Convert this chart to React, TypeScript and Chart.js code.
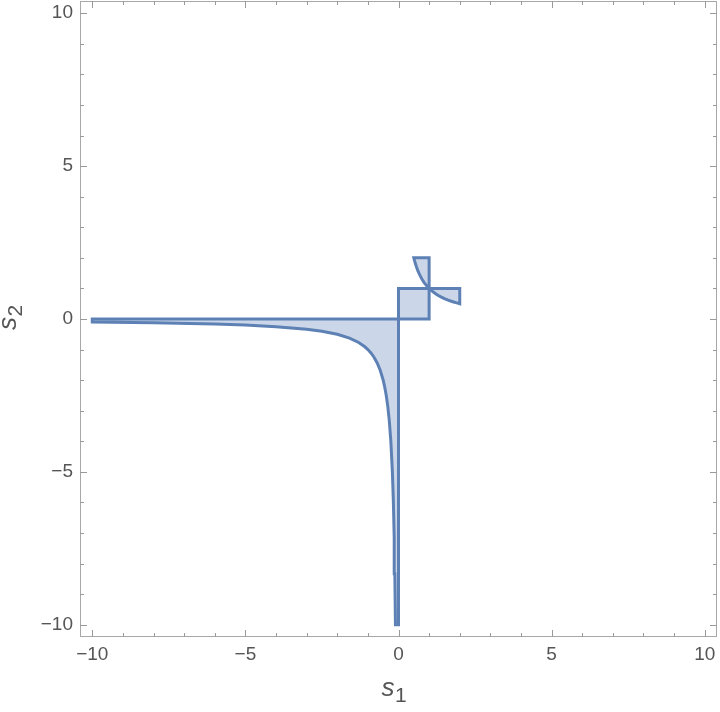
import React, { useEffect, useRef } from 'react';
import { Chart, registerables } from 'chart.js';

Chart.register(...registerables);

// Hyperbola boundary in the third quadrant
const curveS1 = [-10, -8, -6, -5, -4, -3, -2.5, -2, -1.6, -1.3, -1.1, -1, -0.9, -0.8, -0.7, -0.6, -0.5, -0.45, -0.4, -0.35, -0.3, -0.25, -0.2, -0.17, -0.14, -0.12, -0.1];
const curveS2 = [-0.1, -0.125, -0.167, -0.2, -0.25, -0.333, -0.4, -0.5, -0.625, -0.769, -0.909, -1, -1.111, -1.25, -1.429, -1.667, -2, -2.222, -2.5, -2.857, -3.333, -4, -5, -5.882, -7.143, -8.333, -10];

// Corners of the third-quadrant region (before the curve)
const quadCornerS1 = [-10, 0, 0];
const quadCornerS2 = [0, 0, -10];

// Unit square
const squareS1 = [0, 1, 1, 0, 0];
const squareS2 = [0, 0, 1, 1, 0];

// Upper petal: from (1,1) along curve to (0.5,2), then (1,2), back to (1,1)
const topPetalS1 = [1, 0.909, 0.833, 0.769, 0.714, 0.667, 0.625, 0.588, 0.556, 0.526, 0.5, 1, 1];
const topPetalS2 = [1, 1.1, 1.2, 1.3, 1.4, 1.5, 1.6, 1.7, 1.8, 1.9, 2, 2, 1];

// Right petal: from (1,1) along curve to (2,0.5), then (2,1), back to (1,1)
const rightPetalS1 = [1, 1.1, 1.2, 1.3, 1.4, 1.5, 1.6, 1.7, 1.8, 1.9, 2, 2, 1];
const rightPetalS2 = [1, 0.909, 0.833, 0.769, 0.714, 0.667, 0.625, 0.588, 0.556, 0.526, 0.5, 1, 1];

const majorTicks = [-10, -5, 0, 5, 10];
const minorTicks = [-9, -8, -7, -6, -4, -3, -2, -1, 1, 2, 3, 4, 6, 7, 8, 9];
const axisMin = -10.4;
const axisMax = 10.4;

const lineColor = '#5e81b5';
const fillColor = 'rgb(203, 215, 232)';
const frameColor = '#a8a8a8';
const textColor = '#555555';

function zipPts(xs: number[], ys: number[]) {
  return xs.map((x, i) => ({ x, y: ys[i] }));
}

function quadrantPoints() {
  const pts = zipPts(quadCornerS1, quadCornerS2);
  const curve = zipPts(curveS1, curveS2).reverse();
  return [...pts, ...curve, { x: quadCornerS1[0], y: quadCornerS2[0] }];
}

function fmt(v: number | string) {
  const n = Number(v);
  return n < 0 ? '\u2212' + Math.abs(n) : String(n);
}

const framePlugin = {
  id: 'frameTicks',
  beforeDatasetsDraw(chart: any) {
    const { ctx, chartArea, scales } = chart;
    const { left, right, top, bottom } = chartArea;
    const x = scales.x;
    const y = scales.y;
    ctx.save();
    ctx.strokeStyle = frameColor;
    ctx.lineWidth = 1;
    ctx.strokeRect(left + 0.5, top + 0.5, right - left - 1, bottom - top - 1);
    ctx.strokeStyle = '#9a9a9a';
    const drawTicks = (vals: number[], len: number) => {
      ctx.beginPath();
      for (const v of vals) {
        const px = Math.round(x.getPixelForValue(v)) + 0.5;
        ctx.moveTo(px, bottom);
        ctx.lineTo(px, bottom - len);
        ctx.moveTo(px, top);
        ctx.lineTo(px, top + len);
        const py = Math.round(y.getPixelForValue(v)) + 0.5;
        ctx.moveTo(left, py);
        ctx.lineTo(left + len, py);
        ctx.moveTo(right, py);
        ctx.lineTo(right - len, py);
      }
      ctx.stroke();
    };
    drawTicks(majorTicks, 7);
    drawTicks(minorTicks, 4);
    ctx.restore();
  },
  afterDraw(chart: any) {
    const { ctx, chartArea } = chart;
    const cx = (chartArea.left + chartArea.right) / 2;
    const cy = (chartArea.top + chartArea.bottom) / 2;
    ctx.save();
    ctx.fillStyle = textColor;
    ctx.textBaseline = 'alphabetic';
    ctx.textAlign = 'left';
    // x title: s with subscript 1
    ctx.font = 'italic 26px "Liberation Sans"';
    const sw = ctx.measureText('s').width;
    const xs = cx - 17;
    ctx.fillText('s', xs, 696);
    ctx.font = '21px "Liberation Sans"';
    ctx.fillText('1', xs + sw + 0.5, 702);
    // y title: rotated s with subscript 2
    ctx.translate(16, cy + 11);
    ctx.rotate(-Math.PI / 2);
    ctx.font = 'italic 26px "Liberation Sans"';
    const sw2 = ctx.measureText('s').width;
    ctx.fillText('s', 0, 0);
    ctx.font = '21px "Liberation Sans"';
    ctx.fillText('2', sw2 + 0.5, 6);
    ctx.restore();
  },
};

function regionDataset(data: { x: number; y: number }[]) {
  return {
    data,
    showLine: true,
    fill: 'shape',
    backgroundColor: fillColor,
    borderColor: lineColor,
    borderWidth: 3,
    borderJoinStyle: 'miter',
    borderCapStyle: 'square',
    pointRadius: 0,
    pointHoverRadius: 0,
    tension: 0,
  };
}

export default function App() {
  const ref = useRef<HTMLCanvasElement | null>(null);
  useEffect(() => {
    if (!ref.current) return;
    const scaleCommon = {
      type: 'linear' as const,
      min: axisMin,
      max: axisMax,
      grid: { display: false, drawTicks: false },
      border: { display: false },
    };
    const chart = new Chart(ref.current, {
      type: 'scatter',
      data: {
        datasets: [
          regionDataset(quadrantPoints()),
          regionDataset(zipPts(squareS1, squareS2)),
          regionDataset(zipPts(topPetalS1, topPetalS2)),
          regionDataset(zipPts(rightPetalS1, rightPetalS2)),
        ] as any,
      },
      options: {
        animation: false,
        responsive: true,
        maintainAspectRatio: false,
        layout: { padding: { top: 1, right: 3, left: 0, bottom: 0 } },
        plugins: { legend: { display: false }, tooltip: { enabled: false } },
        scales: {
          x: {
            ...scaleCommon,
            position: 'bottom',
            afterBuildTicks: (s: any) => {
              s.ticks = majorTicks.map((v) => ({ value: v }));
            },
            afterFit: (s: any) => {
              s.height = 75;
              s.paddingLeft = 0;
              s.paddingRight = 0;
            },
            ticks: {
              padding: 6,
              autoSkip: false,
              maxRotation: 0,
              color: textColor,
              font: { family: '"Liberation Sans"', size: 19 },
              callback: (v: any) => fmt(v),
            },
          },
          y: {
            ...scaleCommon,
            position: 'left',
            afterBuildTicks: (s: any) => {
              s.ticks = majorTicks.map((v) => ({ value: v }));
            },
            afterFit: (s: any) => {
              s.width = 80;
              s.paddingTop = 0;
              s.paddingBottom = 0;
            },
            ticks: {
              padding: 7,
              autoSkip: false,
              color: textColor,
              font: { family: '"Liberation Sans"', size: 19 },
              callback: (v: any) => fmt(v),
            },
          },
        },
      } as any,
      plugins: [framePlugin],
    });
    return () => chart.destroy();
  }, []);
  return (
    <div style={{ position: 'fixed', left: 0, top: 0, width: 720, height: 712, background: '#fff' }}>
      <canvas ref={ref} />
    </div>
  );
}
